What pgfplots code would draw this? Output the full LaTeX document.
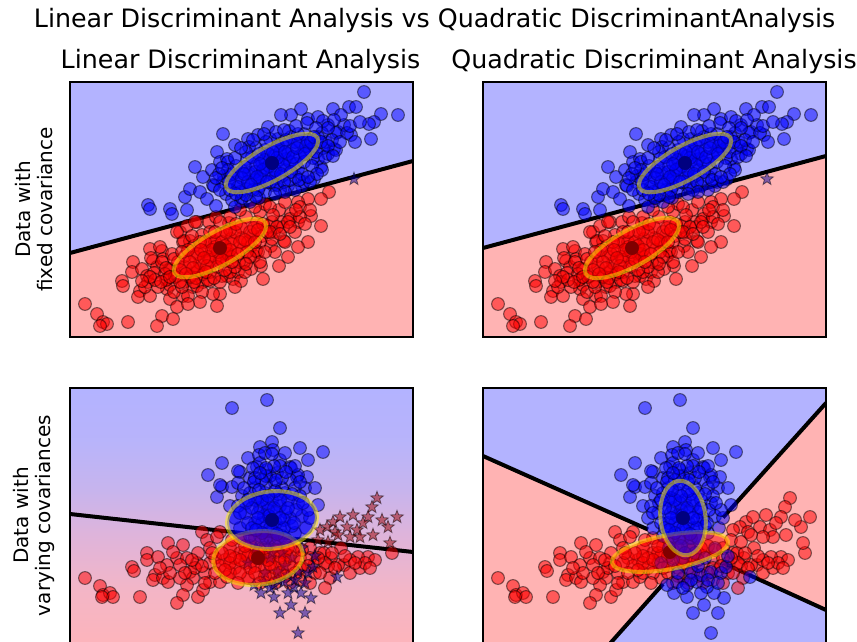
\documentclass[border=0pt]{standalone}
\usepackage{fontspec}
\setmainfont{DejaVu Sans}
\usepackage{pgfplots}
\pgfplotsset{compat=1.18}
\usepackage{pgfplotstable}
\definecolor{bgblue}{RGB}{179,179,255}
\definecolor{bgred}{RGB}{255,179,179}
\definecolor{dred}{HTML}{990000}
\definecolor{dblue}{HTML}{000099}
\pgfdeclareverticalshading{blshade}{100bp}{rgb(0bp)=(1,0.706,0.725); rgb(25bp)=(0.99,0.706,0.735); rgb(35bp)=(0.955,0.71,0.775); rgb(46.5bp)=(0.87,0.706,0.86); rgb(55bp)=(0.78,0.706,0.93); rgb(65bp)=(0.72,0.704,0.985); rgb(75bp)=(0.702,0.702,1); rgb(100bp)=(0.702,0.702,1)}

\pgfdeclareplotmark{fstar}{%
  \pgfpathmoveto{\pgfpointpolar{90}{\pgfplotmarksize}}%
  \pgfpathlineto{\pgfpointpolar{126}{0.42\pgfplotmarksize}}%
  \pgfpathlineto{\pgfpointpolar{162}{\pgfplotmarksize}}%
  \pgfpathlineto{\pgfpointpolar{198}{0.42\pgfplotmarksize}}%
  \pgfpathlineto{\pgfpointpolar{234}{\pgfplotmarksize}}%
  \pgfpathlineto{\pgfpointpolar{270}{0.42\pgfplotmarksize}}%
  \pgfpathlineto{\pgfpointpolar{306}{\pgfplotmarksize}}%
  \pgfpathlineto{\pgfpointpolar{342}{0.42\pgfplotmarksize}}%
  \pgfpathlineto{\pgfpointpolar{18}{\pgfplotmarksize}}%
  \pgfpathlineto{\pgfpointpolar{54}{0.42\pgfplotmarksize}}%
  \pgfpathclose
  \pgfusepathqfillstroke
}

\pgfplotsset{
  panel/.style={scale only axis, width=257.25pt, height=191.25pt,
    xmin=0, xmax=343, ymin=0, ymax=255, y dir=reverse,
    ticks=none, axis on top, axis line style={line width=0.9pt, black},
    anchor=south west, clip=true},
  redpts/.style={only marks, mark=*, mark size=4.8pt,
    mark options={fill=red, draw=black, line width=0.8pt, opacity=0.5}},
  bluepts/.style={only marks, mark=*, mark size=4.8pt,
    mark options={fill=blue, draw=black, line width=0.8pt, opacity=0.5}},
  redstar/.style={only marks, mark=fstar, mark size=5pt,
    mark options={fill=dred, draw=black, line width=0.6pt, opacity=0.5}},
  bluestar/.style={only marks, mark=fstar, mark size=5pt,
    mark options={fill=dblue, draw=black, line width=0.6pt, opacity=0.5}},
  meanpt/.style={only marks, mark=*, mark size=5pt, mark options={fill=black, draw=black}},
  bline/.style={black, line width=3pt, no markers},
}
% covariance ellipse: centre x, centre y, angle, minor radius, xscale, yscale, colour
\newcommand\myell[7]{\addplot[only marks, mark=*, mark size=#4, mark options={rotate=#3, xscale=#5, yscale=#6, fill=#7, draw=yellow, line width=3pt, opacity=0.5}] coordinates {(#1,#2)};}

\pgfplotstableread{
x y
153 52
165 63
147 70
125 85
133 95
142 88
115 115
120 107
78 123
100 127
150 80
157 77
143 103
153 100
160 93
130 110
137 117
167 100
294 10
231 27
221 33
263 27
279 25
286 25
311 32
328 33
304 40
299 42
301 57
281 53
251 85
238 37
248 35
198 45
188 53
211 33
258 43
268 50
274 43
271 33
256 60
264 67
258 72
248 77
234 70
244 97
234 100
178 57
208 57
221 55
80 127
102 132
117 128
156 112
154 94
171 119
158 80
176 107
172 89
189 116
179 91
190 104
177 77
191 93
179 65
203 103
192 80
202 92
202 81
195 68
218 104
204 74
215 88
200 57
216 77
212 62
228 87
222 68
230 74
219 49
230 60
243 76
234 52
244 64
237 41
253 66
252 51
266 68
253 39
266 51
264 38
277 51
144 104
146 124
252 88
232 104
196 86
208 79
186 84
198 72
210 70
185 98
220 80
205 96
225 60
238 58
175 85
163 92
183 108
240 68
248 55
170 110
162 118
150 108
180 120
212 94
226 95
195 110
165 125
225 108
240 100
185 90
195 78
205 88
213 83
190 97
200 100
208 64
218 72
226 82
234 80
182 75
172 96
168 105
178 100
188 108
210 108
220 98
232 92
242 84
246 70
236 64
228 52
216 58
206 50
196 60
186 66
176 70
166 84
158 88
149 92
160 108
172 116
262 58
258 46
246 46
270 60
280 44
290 40
285 60
255 75
199 84
207 76
193 88
211 92
187 95
203 70
215 70
223 75
197 100
207 103
181 103
174 92
189 72
227 66
235 72
241 60
221 90
229 98
214 100
186 115
176 113
166 112
159 100
146 96
152 86
165 76
171 66
183 58
194 52
214 48
226 44
244 55
251 60
258 64
263 74
247 92
238 95
215 110
205 112
190 82
}\topblue

\pgfplotstableread{
x y
80 167
92 169
63 180
62 190
72 187
52 199
53 204
77 194
78 200
83 179
87 185
93 177
70 209
68 215
80 214
97 207
100 217
113 214
123 205
107 225
92 234
103 237
87 244
58 240
15 222
27 232
33 240
37 242
30 244
147 224
150 212
143 212
133 200
140 199
110 150
117 144
127 140
113 160
120 159
100 187
107 194
97 197
120 194
127 190
133 192
157 194
163 197
168 190
251 144
238 160
228 165
214 159
218 175
209 184
193 197
191 184
181 187
171 199
201 164
204 150
221 132
228 140
241 134
211 140
198 144
174 180
184 174
181 164
188 170
259 110
251 117
238 117
228 120
100 188
114 200
102 172
115 185
127 204
115 174
128 188
114 159
130 181
124 164
140 190
135 169
152 194
132 153
146 175
141 160
150 166
157 179
139 140
157 168
151 152
169 180
161 157
172 168
159 141
172 156
171 145
186 169
183 153
176 135
192 154
187 140
202 157
190 130
202 140
195 122
213 145
209 128
220 137
100 203
84 191
81 176
90 165
107 150
146 135
170 128
145 160
155 172
138 175
162 162
150 180
125 175
165 150
178 160
120 195
108 180
96 198
88 205
104 210
118 214
132 210
160 190
175 190
190 180
205 170
215 160
225 150
185 125
200 125
215 120
230 125
240 128
160 135
125 140
145 165
152 160
158 172
140 178
135 160
147 185
162 175
128 172
120 180
110 188
118 168
105 195
112 205
126 196
138 198
150 200
165 185
177 170
180 150
190 160
197 150
207 145
218 140
230 135
195 170
170 160
160 148
150 140
140 150
130 160
92 180
95 192
85 198
75 205
130 220
118 222
165 205
180 175
148 170
155 164
142 168
160 168
152 178
137 184
131 168
123 186
116 192
110 200
124 200
136 190
144 196
155 188
168 172
175 158
184 146
193 142
200 150
210 152
220 145
226 128
235 142
203 133
185 160
166 142
156 150
145 150
134 176
104 177
96 186
91 200
80 195
72 199
100 195
112 170
122 154
162 180
176 182
188 148
}\topred

\pgfplotstableread{
x y
162 20
197 12
210 40
202 54
230 60
253 64
238 72
152 75
138 87
178 70
170 84
147 109
152 99
162 99
237 89
235 100
248 117
220 79
227 89
190 59
203 62
210 72
187 79
197 82
207 85
221 80
228 87
189 67
168 83
150 97
200 130
190 120
210 118
195 105
205 95
185 100
215 105
200 88
190 75
210 78
220 92
180 90
195 140
210 140
185 135
220 130
200 150
190 148
212 148
225 145
180 148
175 125
228 115
172 108
232 128
195 65
215 65
183 80
225 78
168 95
176 115
236 140
170 140
202 112
188 110
216 124
196 96
206 135
194 128
160 118
165 130
240 130
245 100
185 90
212 100
198 122
206 125
192 135
203 143
214 132
188 125
178 135
222 138
197 115
208 106
218 112
185 112
196 88
204 78
192 92
212 90
225 100
180 105
230 108
238 122
168 118
174 100
208 150
196 150
182 140
199 128
204 120
192 112
210 112
188 130
214 140
182 120
226 122
200 140
192 145
205 103
196 80
206 92
184 94
216 84
222 106
233 115
178 112
170 125
186 142
215 150
224 135
202 66
190 85
230 94
210 130
198 108
189 102
218 120
207 146
}\botblueup

\pgfplotstableread{
x y
228 245
241 210
231 205
221 217
204 209
191 205
194 194
204 197
214 194
224 199
184 197
208 184
218 187
228 184
238 185
243 179
267 189
200 170
212 165
190 172
222 170
232 160
198 158
186 160
178 175
245 168
210 225
235 225
202 165
215 178
195 185
225 192
208 192
235 195
200 200
218 205
}\botbluelow

\pgfplotstableread{
x y
15 190
30 198
33 207
40 205
43 209
32 209
70 209
62 179
64 183
77 165
77 172
88 169
98 155
113 157
132 144
150 144
85 187
83 192
93 190
98 194
97 177
107 170
103 164
120 184
123 190
117 197
127 175
113 207
107 215
128 209
133 202
140 194
150 194
157 189
137 152
147 149
117 170
110 177
160 160
170 165
180 158
190 162
200 168
175 175
185 178
195 180
210 175
165 180
155 172
145 170
140 160
205 158
215 165
220 178
230 170
225 158
170 150
185 150
235 182
160 185
178 190
200 190
215 188
230 192
245 175
250 165
240 160
135 185
128 165
274 177
268 177
298 169
288 169
261 170
254 165
271 160
258 178
280 185
245 185
260 190
290 180
305 172
240 195
255 200
322 165
175 165
190 170
180 180
205 180
165 170
150 178
140 175
195 160
210 168
220 168
230 180
240 170
160 175
170 185
185 185
200 176
215 172
125 180
135 195
145 185
110 190
100 185
90 180
255 175
265 180
280 172
295 175
250 185
178 168
188 165
198 172
208 162
218 160
170 172
160 168
152 165
195 188
210 185
225 185
185 168
175 158
162 152
142 165
132 178
122 172
115 185
205 195
220 195
190 195
238 178
248 170
262 165
275 168
285 175
300 180
232 162
155 182
168 195
}\botred

\pgfplotstableread{
x y
307 110
302 119
298 129
327 129
318 139
320 155
303 147
283 127
277 139
287 142
263 134
270 129
257 139
265 144
250 142
290 149
312 132
293 135
280 149
248 152
258 154
268 147
}\botredright

\begin{document}
\begin{tikzpicture}
\path[use as bounding box] (0,0) rectangle (642.75pt,481.5pt);

\node[anchor=base, font=\fontsize{19}{23}\selectfont, inner sep=0pt] at (325.9pt,460.5pt) {Linear Discriminant Analysis vs Quadratic DiscriminantAnalysis};
\node[anchor=base, font=\fontsize{19}{23}\selectfont, inner sep=0pt] at (180.4pt,429.75pt) {Linear Discriminant Analysis};
\node[anchor=base, font=\fontsize{19}{23}\selectfont, inner sep=0pt] at (490.5pt,429.75pt) {Quadratic Discriminant Analysis};
\node[rotate=90, align=center, font=\fontsize{15}{16.5}\selectfont, inner sep=0pt] at (25.5pt,324.4pt) {Data with\\fixed covariance};
\node[rotate=90, align=center, font=\fontsize{15}{16.5}\selectfont, inner sep=0pt] at (25.5pt,94.9pt) {Data with\\varying covariances};

% top-left: LDA, fixed covariance
\begin{axis}[panel, at={(52.5pt,228.75pt)}]
\addplot[fill=bgred, draw=none] coordinates {(0,0) (343,0) (343,255) (0,255)} -- cycle;
\addplot[fill=bgblue, draw=none] coordinates {(0,0) (343,0) (343,79) (0,171)} -- cycle;
\addplot[bline] coordinates {(0,171) (343,79)};
\addplot[redpts] table {\topred};
\addplot[bluepts] table {\topblue};
\addplot[bluestar] coordinates {(284,97)};
\addplot[meanpt] coordinates {(150,166) (202,81)};
\myell{150}{166}{29}{12.75pt}{3.059}{1}{red}
\myell{202}{81}{29}{12.75pt}{3.059}{1}{blue}
\end{axis}

% top-right: QDA, fixed covariance
\begin{axis}[panel, at={(362.25pt,228.75pt)}]
\addplot[fill=bgred, draw=none] coordinates {(0,0) (343,0) (343,255) (0,255)} -- cycle;
\addplot[fill=bgblue, draw=none] coordinates {(0,0) (343,0) (343,74) (0,166)} -- cycle;
\addplot[bline] coordinates {(0,166) (343,74)};
\addplot[redpts] table {\topred};
\addplot[bluepts] table {\topblue};
\addplot[bluestar] coordinates {(284,97)};
\addplot[meanpt] coordinates {(149,166) (202,81)};
\myell{149}{166}{29}{13.5pt}{2.944}{1}{red}
\myell{202}{81}{29}{12.75pt}{3.059}{1}{blue}
\end{axis}

% bottom-left: LDA, varying covariances
\begin{axis}[panel, at={(52.5pt,-0.75pt)}]
\addplot[draw=none, shade, shading=blshade] coordinates {(0,0) (343,0) (343,255) (0,255)} -- cycle;
\addplot[bline] coordinates {(0,126) (343,164)};
\addplot[redpts] table {\botred};
\addplot[redstar] table {\botredright};
\addplot[bluepts] table {\botblueup};
\addplot[bluestar] table {\botbluelow};
\addplot[meanpt] coordinates {(188,170) (202,132)};
\myell{188}{170}{6}{20pt}{1.6875}{1}{red}
\myell{202}{132}{6}{21.5pt}{1.5698}{1}{blue}
\end{axis}

% bottom-right: QDA, varying covariances
\begin{axis}[panel, at={(362.25pt,-0.75pt)}]
\addplot[fill=bgblue, draw=none] coordinates {(0,0) (343,0) (343,255) (0,255)} -- cycle;
\addplot[fill=bgred, draw=none] coordinates {(0,68) (211,162) (127.5,255) (0,255)} -- cycle;
\addplot[fill=bgred, draw=none] coordinates {(343,15) (211,162) (343,222)} -- cycle;
\addplot[bline] coordinates {(0,68) (165,141.5)};
\addplot[bline] coordinates {(240,175) (343,222)};
\addplot[bline] coordinates {(343,15) (240,129.5)};
\addplot[bline] coordinates {(180,196) (127.5,255)};
\addplot[redpts] table {\botred};
\addplot[redpts] table {\botredright};
\addplot[bluepts] table {\botblueup};
\addplot[bluepts] table {\botbluelow};
\addplot[meanpt] coordinates {(187,164) (200,130)};
\myell{187}{164}{10.5}{12.75pt}{3.4706}{1}{red}
\myell{200}{130}{7}{16.9pt}{1}{1.6627}{blue}
\end{axis}
\end{tikzpicture}
\end{document}
